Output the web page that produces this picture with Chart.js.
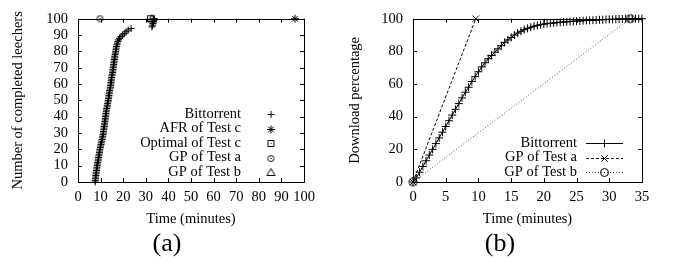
<!DOCTYPE html>
<html>
<head>
<meta charset="utf-8">
<script src="https://cdn.jsdelivr.net/npm/chart.js@4"></script>
<style>
  body { margin: 0; background: #fff; width: 673px; height: 263px; position: relative; overflow: hidden; font-family: "Liberation Serif", serif; }
  .panel { position: absolute; top: 0; height: 263px; }
  .panel canvas { display: block; }
  .cap { position: absolute; top: 228px; font-size: 26px; line-height: 30px; transform: translateX(-50%); color: #000; }
</style>
</head>
<body>
<div class="panel" style="left:0;width:340px"><canvas id="chart-a" width="340" height="263"></canvas></div>
<div class="panel" style="left:340px;width:333px"><canvas id="chart-b" width="333" height="263"></canvas></div>
<div class="cap" style="left:167px">(a)</div>
<div class="cap" style="left:500px">(b)</div>
<script>
'use strict';

// ─── (a) completed leechers over time ─────────────────────
const btCount = [
  0, 1, 2, 3, 4, 5, 6, 7, 8, 9, 10, 11, 12, 13, 14, 15, 16, 17, 18, 19,
  20, 21, 22, 23, 24, 25, 26, 27, 28, 29, 30, 31, 32, 33, 34, 35, 36, 37, 38, 39,
  40, 41, 42, 43, 44, 45, 46, 47, 48, 49, 50, 51, 52, 53, 54, 55, 56, 57, 58, 59,
  60, 61, 62, 63, 64, 65, 66, 67, 68, 69, 70, 71, 72, 73, 74, 75, 76, 77, 78, 79,
  80, 81, 82, 83, 84, 85, 86, 87, 88, 89, 90, 91, 92, 93, 94,
  95, 96, 97, 98, 99, 100,
];
const btTime = [
  7.6, 7.7, 7.8, 7.8, 7.9, 8.0, 8.1, 8.2, 8.3, 8.4, 8.5, 8.6, 8.7, 8.9, 9.0, 9.1, 9.2, 9.4, 9.5, 9.6,
  9.7, 9.9, 10.0, 10.2, 10.3, 10.5, 10.6, 10.8, 10.9, 11.1, 11.2, 11.3, 11.4, 11.5, 11.6, 11.7, 11.8, 11.9, 12.0, 12.1,
  12.2, 12.3, 12.4, 12.5, 12.6, 12.7, 12.9, 13.0, 13.1, 13.3, 13.4, 13.5, 13.6, 13.7, 13.8, 13.9, 14.0, 14.2, 14.3, 14.4,
  14.5, 14.6, 14.7, 14.8, 14.9, 15.0, 15.1, 15.3, 15.4, 15.5, 15.6, 15.7, 15.8, 15.9, 16.0, 16.1, 16.2, 16.3, 16.4, 16.6,
  16.7, 16.8, 16.9, 17.0, 17.2, 17.4, 17.6, 17.9, 18.4, 19.0, 19.8, 20.5, 21.3, 22.2, 23.5,
  32.7, 33.0, 33.2, 33.4, 33.6, 33.8,
];
const afrTime = [96];
const afrCount = [100];
const optTime = [32.1];
const optCount = [100];
const gpaTime = [9.7];
const gpaCount = [100];
const gpbTime = [32.7];
const gpbCount = [100];

// ─── (b) download percentage over time ────────────────────
const dlTime = [
  0, 0.5, 1, 1.5, 2, 2.5, 3, 3.5, 4, 4.5, 5, 5.5, 6, 6.5, 7, 7.5, 8, 8.5, 9, 9.5,
  10, 10.5, 11, 11.5, 12, 12.5, 13, 13.5, 14, 14.5, 15, 15.5, 16, 16.5, 17, 17.5, 18, 18.5, 19, 19.5,
  20, 20.5, 21, 21.5, 22, 22.5, 23, 23.5, 24, 24.5, 25, 25.5, 26, 26.5, 27, 27.5, 28, 28.5, 29, 29.5,
  30, 30.5, 31, 31.5, 32, 32.5, 33, 33.5, 34, 34.5, 35,
];
const dlPct = [
  0, 2.5, 6, 9.5, 13, 16.5, 20, 23.5, 27, 30.5, 34, 37.5, 41, 44.5, 48, 51.5, 55, 58, 61.5, 64.5,
  67.5, 70.5, 73, 75.5, 77.5, 79.5, 81.5, 83.5, 85.5, 87, 88.5, 90, 91.2, 92.3, 93.3, 94.1, 94.8, 95.4, 95.9, 96.3,
  96.7, 97, 97.2, 97.4, 97.6, 97.8, 98, 98.1, 98.3, 98.4, 98.5, 98.6, 98.8, 98.9, 99, 99.1, 99.2, 99.3, 99.4, 99.5,
  99.6, 99.6, 99.7, 99.8, 99.8, 99.9, 99.9, 100, 100, 100, 100,
];
const gpaLineTime = [0, 9.6];
const gpaLinePct = [0, 100];
const gpbLineTime = [0, 33.2];
const gpbLinePct = [0, 100];

// ─── helpers ──────────────────────────────────────────────
const FONT = { family: "'Liberation Serif', serif", size: 14.5 };
const pts = (xs, ys) => xs.map((x, i) => ({ x, y: ys[i] }));

// open gnuplot-like markers with the little centre dot
function marker(kind, r) {
  const s = 2 * r + 3;
  const c = document.createElement('canvas');
  c.width = c.height = s;
  const g = c.getContext('2d');
  const m = s / 2;
  g.strokeStyle = '#000';
  g.fillStyle = '#000';
  g.lineWidth = 1;
  g.beginPath();
  if (kind === 'box') g.rect(m - r, m - r, 2 * r, 2 * r);
  if (kind === 'circle') g.arc(m, m, r, 0, Math.PI * 2);
  if (kind === 'tri') { g.moveTo(m, m - r); g.lineTo(m + r, m + r * 0.75); g.lineTo(m - r, m + r * 0.75); g.closePath(); }
  g.stroke();
  if (kind !== 'tri') g.fillRect(m - 0.5, m - 0.5, 1, 1);
  return c;
}
const boxMark = marker('box', 3);
const circMark = marker('circle', 3);
const circMarkB = marker('circle', 4);
const triMark = marker('tri', 4);

// frame on all four sides + gnuplot style inward ticks
const gnuFrame = {
  id: 'gnuFrame',
  afterDatasetsDraw(chart) {
    const { ctx: c, chartArea: { left, right, top, bottom }, scales: { x, y } } = chart;
    const L = 4;
    c.save();
    c.strokeStyle = '#000';
    c.lineWidth = 1;
    c.beginPath();
    x.ticks.forEach(t => {
      const px = Math.round(x.getPixelForValue(t.value)) + 0.5;
      c.moveTo(px, bottom); c.lineTo(px, bottom - L);
      c.moveTo(px, top); c.lineTo(px, top + L);
    });
    y.ticks.forEach(t => {
      const py = Math.round(y.getPixelForValue(t.value)) + 0.5;
      c.moveTo(left, py); c.lineTo(left + L, py);
      c.moveTo(right, py); c.lineTo(right - L, py);
    });
    c.stroke();
    c.strokeRect(Math.round(left) + 0.5, Math.round(top) + 0.5, Math.round(right - left), Math.round(bottom - top));
    c.restore();
  },
};

// key drawn inside the plot, text right aligned, sample on the right
function keyPlugin(cfg) {
  return {
    id: 'gnuKey',
    afterDraw(chart) {
      const c = chart.ctx;
      c.save();
      c.font = "14.5px 'Liberation Serif', serif";
      c.fillStyle = '#000';
      c.textAlign = 'right';
      c.textBaseline = 'middle';
      chart.data.datasets.forEach((ds, i) => {
        const yy = cfg.y0 + i * cfg.dy;
        c.fillText(ds.label, cfg.textRight, yy);
        if (cfg.lineFrom !== undefined) {
          c.strokeStyle = ds.borderColor;
          c.lineWidth = 1;
          c.setLineDash(ds.borderDash || []);
          c.beginPath();
          c.moveTo(cfg.lineFrom, Math.round(yy) + 0.5);
          c.lineTo(cfg.lineTo, Math.round(yy) + 0.5);
          c.stroke();
          c.setLineDash([]);
        }
        c.strokeStyle = '#000';
        Chart.helpers.drawPoint(c, {
          pointStyle: ds.pointStyle, radius: ds.pointRadius, rotation: 0, borderWidth: 1,
        }, cfg.markX, Math.round(yy) + 0.5);
      });
      c.restore();
    },
  };
}

function axes(xMax, xStep, yStep, yTitle, yWidth, yTitlePad) {
  return {
    x: {
      type: 'linear', min: 0, max: xMax,
      ticks: { stepSize: xStep, padding: 6, color: '#000', font: FONT, autoSkip: false, maxRotation: 0 },
      grid: { display: false, drawTicks: false },
      border: { display: false },
      title: { display: true, text: 'Time (minutes)', color: '#000', font: FONT, padding: { top: 0, bottom: 35.3 } },
      afterFit(s) { s.height = 81; },
    },
    y: {
      type: 'linear', min: 0, max: 100,
      ticks: { stepSize: yStep, padding: 10, color: '#000', font: FONT, autoSkip: false },
      grid: { display: false, drawTicks: false },
      border: { display: false },
      title: { display: true, text: yTitle, color: '#000', font: FONT, padding: { top: yTitlePad, bottom: 0 } },
      afterFit(s) { s.width = yWidth; },
    },
  };
}

const common = {
  responsive: false,
  animation: false,
  events: [],
  plugins: { legend: { display: false }, tooltip: { enabled: false } },
};

Chart.defaults.color = '#000';
Chart.defaults.borderColor = '#000';

// ─── chart (a) ────────────────────────────────────────────
new Chart(document.getElementById('chart-a'), {
  type: 'scatter',
  data: {
    datasets: [
      { label: 'Bittorrent', data: pts(btTime, btCount), pointStyle: 'cross', pointRadius: 3.5, borderColor: '#000', pointBorderWidth: 1, clip: false },
      { label: 'AFR of Test c', data: pts(afrTime, afrCount), pointStyle: 'star', pointRadius: 4, borderColor: '#000', pointBorderWidth: 1, clip: false },
      { label: 'Optimal of Test c', data: pts(optTime, optCount), pointStyle: boxMark, pointRadius: 4, clip: false },
      { label: 'GP of Test a', data: pts(gpaTime, gpaCount), pointStyle: circMark, pointRadius: 4, clip: false },
      { label: 'GP of Test b', data: pts(gpbTime, gpbCount), pointStyle: triMark, pointRadius: 4, clip: false },
    ],
  },
  options: {
    ...common,
    layout: { padding: { left: 0, right: 36, top: 14, bottom: 0 } },
    scales: axes(100, 10, 10, 'Number of completed leechers', 78, 9.4),
  },
  plugins: [gnuFrame, keyPlugin({ textRight: 241, y0: 114, dy: 14.5, markX: 271 })],
});

// ─── chart (b) ────────────────────────────────────────────
new Chart(document.getElementById('chart-b'), {
  type: 'scatter',
  data: {
    datasets: [
      { label: 'Bittorrent', data: pts(dlTime, dlPct), showLine: true, borderWidth: 1, borderColor: '#000', pointStyle: 'cross', pointRadius: 4, pointBorderWidth: 1, clip: false },
      { label: 'GP of Test a', data: pts(gpaLineTime, gpaLinePct), showLine: true, borderWidth: 1, borderColor: '#000', borderDash: [3, 2], pointStyle: 'crossRot', pointRadius: 4.5, pointBorderWidth: 1, clip: false },
      { label: 'GP of Test b', data: pts(gpbLineTime, gpbLinePct), showLine: true, borderWidth: 1, borderColor: '#555', borderDash: [1, 2], pointStyle: circMarkB, pointRadius: 4, clip: false },
    ],
  },
  options: {
    ...common,
    layout: { padding: { left: 0, right: 31, top: 14, bottom: 0 } },
    scales: axes(35, 5, 20, 'Download percentage', 73, 6.4),
  },
  plugins: [gnuFrame, keyPlugin({ textRight: 237, y0: 143, dy: 14.5, markX: 264.5, lineFrom: 246, lineTo: 283 })],
});
</script>
</body>
</html>
